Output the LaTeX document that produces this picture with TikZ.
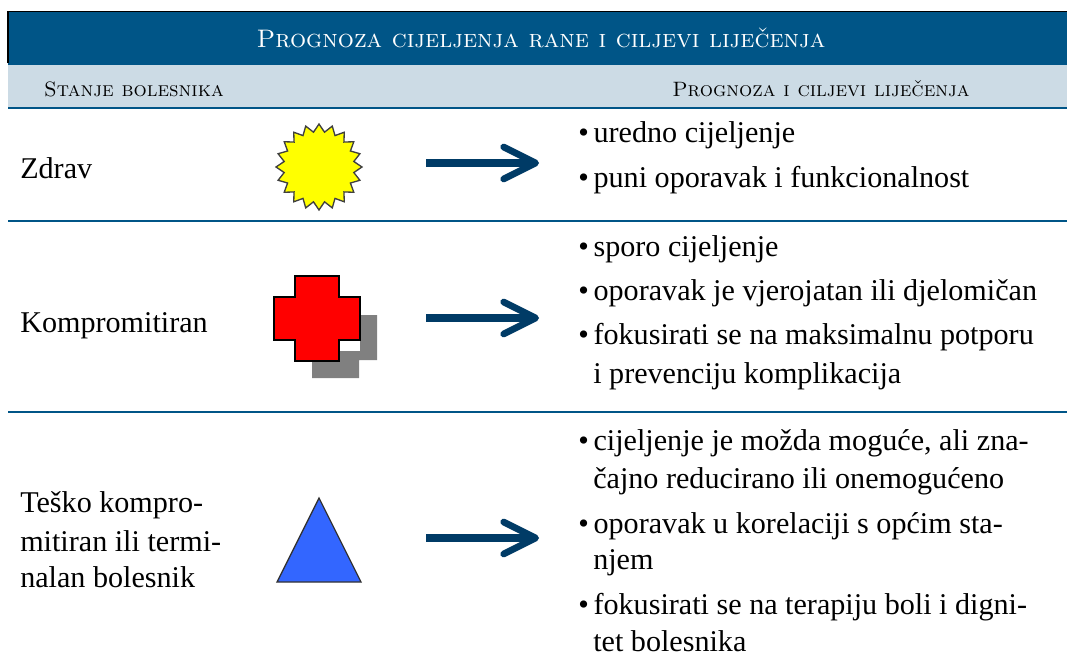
\documentclass[tikz,border=0pt]{standalone}
\usepackage{fontspec}
\usetikzlibrary{arrows.meta,shapes.geometric}
\newfontfamily\bodyfont{Liberation Serif}
\definecolor{titleblue}{HTML}{005587}
\definecolor{subblue}{HTML}{CCDBE5}
\definecolor{arrowblue}{HTML}{003B66}
\definecolor{sunyellow}{HTML}{FFFF00}
\definecolor{triblue}{HTML}{3366FF}
\newcommand\bul{\makebox[11.5pt][l]{•}}
\tikzset{
  x=0.75pt,y=-0.75pt,
  body/.style={inner sep=0pt,anchor=base west,font=\bodyfont\fontsize{22.6}{27}\selectfont,text=black},
  bandtitle/.style={inner sep=0pt,anchor=base,font=\fontsize{19}{23}\selectfont\scshape,text=white},
  bandsub/.style={inner sep=0pt,anchor=base,font=\fontsize{15.6}{19}\selectfont\scshape,text=black},
  rule/.style={draw=titleblue,line width=1.2pt},
  flow/.style={draw=arrowblue,line width=5.4pt,-{Straight Barb[length=24pt,width=24pt,line width=5pt,round=false]},shorten >=0pt},
}
\begin{document}
\begin{tikzpicture}
\useasboundingbox (0,0) rectangle (1067,657);
\fill[white] (0,0) rectangle (1067,657);
\fill[titleblue] (8,12) rectangle (1067,64);
\fill[subblue] (8,64) rectangle (1067,108);
\draw[black,line width=1pt] (8,63) -- (8,11.5) -- (1067,11.5);
\draw[rule] (8,64) -- (1067,64);
\draw[rule] (8,108) -- (1067,108);
\draw[rule] (8,221) -- (1067,221);
\draw[rule] (8,412) -- (1067,412);
\node[bandtitle] (title) at (541,47) {Prognoza cijeljenja rane i ciljevi liječenja};
\node[bandsub] (subleft) at (134,96) {Stanje bolesnika};
\node[bandsub] (subright) at (821,96) {Prognoza i ciljevi liječenja};
\node[body] (c1) at (20,178) {Zdrav};
\node[body] (c2) at (20,332) {Kompromitiran};
\node[body] (c3a) at (20,512) {Teško kompro-};
\node[body] (c3b) at (20,551) {mitiran ili termi-};
\node[body] (c3c) at (20,587) {nalan bolesnik};
% icons
\node[star,star points=20,star point ratio=1.22,minimum size=64.5pt,inner sep=0pt,draw=black!75,line width=1pt,fill=sunyellow] (sun) at (319,167) {};
\fill[black!50] (312,367+11) -- (312,351) -- (360,351) -- (360,315+0) -- (377,315) -- (377,360) -- (359,360) -- (359,378) -- cycle;
\draw[black,line width=1.5pt,fill=red] (295,276) -- (339,276) -- (339,297) -- (360,297) -- (360,340) -- (339,340) -- (339,361) -- (295,361) -- (295,340) -- (274,340) -- (274,297) -- (295,297) -- cycle;
\draw[black!80,line width=1pt,fill=triblue] (277,582) -- (319,498) -- (361,582) -- cycle;
% arrows
\coordinate (a1s) at (426,163); \coordinate (a1e) at (539,163);
\coordinate (a2s) at (426,318); \coordinate (a2e) at (539,318);
\coordinate (a3s) at (426,538); \coordinate (a3e) at (539,538);
\draw[flow] (a1s) -- (a1e);
\draw[flow] (a2s) -- (a2e);
\draw[flow] (a3s) -- (a3e);
% right column
\node[body] (r1) at (578,142) {\bul uredno cijeljenje};
\node[body] (r2) at (578,187) {\bul puni oporavak i funkcionalnost};
\node[body] (r3) at (578,256) {\bul sporo cijeljenje};
\node[body] (r4) at (578,300) {\bul oporavak je vjerojatan ili djelomičan};
\node[body] (r5) at (578,344) {\bul fokusirati se na maksimalnu potporu};
\node[body] (r5b) at (593,383) {i prevenciju komplikacija};
\node[body] (r6) at (578,450) {\bul cijeljenje je možda moguće, ali zna-};
\node[body] (r6b) at (593,488) {čajno reducirano ili onemogućeno};
\node[body] (r7) at (578,533) {\bul oporavak u korelaciji s općim sta-};
\node[body] (r7b) at (593,569) {njem};
\node[body] (r8) at (578,614) {\bul fokusirati se na terapiju boli i digni-};
\node[body] (r8b) at (593,651) {tet bolesnika};
\end{tikzpicture}
\end{document}
